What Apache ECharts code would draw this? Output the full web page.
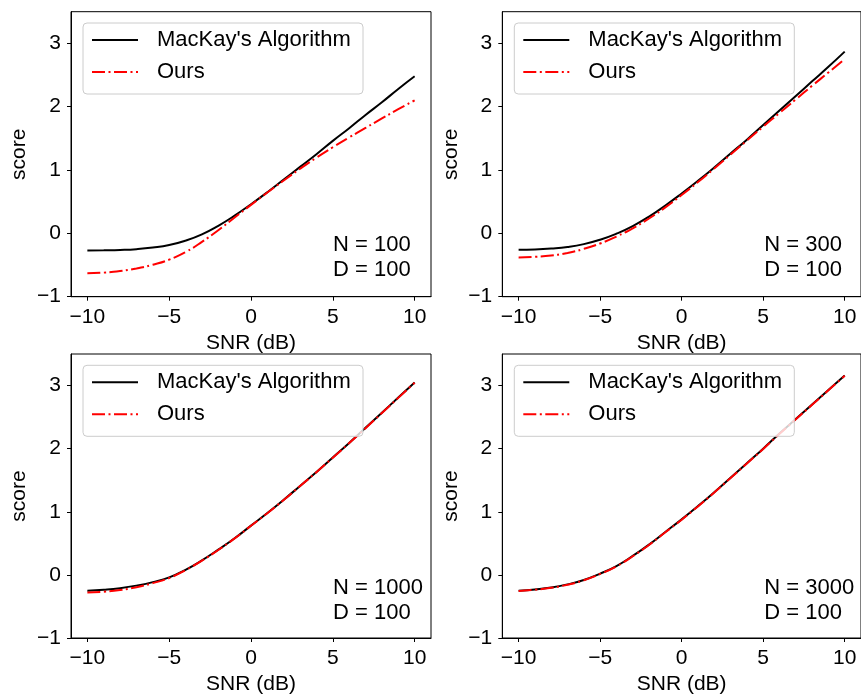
<!DOCTYPE html>
<html><head><meta charset="utf-8">
<script src="https://cdn.jsdelivr.net/npm/echarts@6/dist/echarts.min.js"></script>
<style>html,body{margin:0;padding:0;background:#fff}#c{width:861px;height:696px}</style>
</head><body><div id="c"></div>
<script>
const snr = [-10,-9,-8,-7,-6,-5,-4,-3,-2,-1,0,1,2,3,4,5,6,7,8,9,10];
const xTicks = [-10,-5,0,5,10];
const yTicks = [-1,0,1,2,3];
const seriesNames = ["MacKay's Algorithm", "Ours"];

const mackay100 = [-0.27,-0.267,-0.262,-0.25,-0.225,-0.185,-0.115,-0.015,0.12,0.28,0.46,0.65,0.85,1.05,1.25,1.46,1.66,1.87,2.07,2.28,2.48];
const ours100   = [-0.63,-0.62,-0.595,-0.555,-0.495,-0.415,-0.295,-0.135,0.05,0.25,0.45,0.645,0.835,1.02,1.195,1.36,1.515,1.665,1.815,1.96,2.10];
const mackay300 = [-0.26,-0.255,-0.24,-0.215,-0.17,-0.10,-0.005,0.115,0.265,0.44,0.63,0.83,1.04,1.26,1.48,1.71,1.94,2.17,2.40,2.63,2.87];
const ours300   = [-0.38,-0.37,-0.35,-0.31,-0.245,-0.16,-0.05,0.08,0.235,0.41,0.605,0.81,1.025,1.245,1.465,1.685,1.90,2.115,2.33,2.54,2.75];
const mackay1000 = [-0.25,-0.235,-0.21,-0.17,-0.115,-0.04,0.08,0.23,0.40,0.58,0.78,0.98,1.19,1.41,1.63,1.86,2.09,2.33,2.57,2.81,3.05];
const ours1000   = [-0.28,-0.267,-0.24,-0.195,-0.13,-0.05,0.075,0.225,0.395,0.578,0.778,0.978,1.188,1.408,1.628,1.858,2.088,2.325,2.565,2.805,3.045];
const mackay3000 = [-0.25,-0.23,-0.20,-0.15,-0.08,0.02,0.14,0.30,0.48,0.68,0.88,1.09,1.31,1.54,1.77,2.00,2.24,2.47,2.70,2.93,3.16];
const ours3000   = [-0.255,-0.235,-0.205,-0.155,-0.085,0.015,0.135,0.295,0.475,0.675,0.875,1.085,1.305,1.535,1.765,1.995,2.235,2.465,2.695,2.925,3.155];
const annotations = ['N = 100\nD = 100','N = 300\nD = 100','N = 1000\nD = 100','N = 3000\nD = 100'];

const panels = [
  {mackay: mackay100, ours: ours100, note: annotations[0], left: 71, top: 11.7, height: 285},
  {mackay: mackay300, ours: ours300, note: annotations[1], left: 502.3, top: 11.7, height: 285},
  {mackay: mackay1000, ours: ours1000, note: annotations[2], left: 71, top: 354, height: 286},
  {mackay: mackay3000, ours: ours3000, note: annotations[3], left: 502.3, top: 354, height: 286}
];

const FONT = "'Liberation Sans', Arial, sans-serif";
const FS = 21;
const FS2 = 22;
const fmt = v => String(v).replace('-', '\u2212');

const option = {
  animation: false,
  backgroundColor: '#fff',
  textStyle: {fontFamily: FONT},
  grid: panels.map(p => ({left: p.left, top: p.top, width: 360, height: p.height, show: true, borderColor: '#000', borderWidth: 1, backgroundColor: 'transparent', containLabel: false})),
  xAxis: panels.map((p, i) => ({
    type: 'value', gridIndex: i, min: -11, max: 11,
    name: 'SNR (dB)', nameLocation: 'middle', nameGap: 36,
    nameTextStyle: {fontSize: FS, color: '#000', fontFamily: FONT},
    axisLine: {show: true, onZero: false, lineStyle: {color: '#000', width: 1}},
    axisTick: {show: true, length: 4, customValues: xTicks, lineStyle: {color: '#000'}},
    axisLabel: {customValues: xTicks, formatter: fmt, fontSize: FS, color: '#000', margin: 10, fontFamily: FONT},
    splitLine: {show: false}
  })),
  yAxis: panels.map((p, i) => ({
    type: 'value', gridIndex: i, min: -1, max: 3.5,
    name: 'score', nameLocation: 'middle', nameGap: 41, nameRotate: 90,
    nameTextStyle: {fontSize: FS, color: '#000', fontFamily: FONT},
    axisLine: {show: true, onZero: false, lineStyle: {color: '#000', width: 1}},
    axisTick: {show: true, length: 4, customValues: yTicks, lineStyle: {color: '#000'}},
    axisLabel: {customValues: yTicks, formatter: fmt, fontSize: FS, color: '#000', margin: 10, fontFamily: FONT},
    splitLine: {show: false}
  })),
  legend: panels.map((p, i) => ({
    orient: 'vertical', left: p.left + 12, top: p.top + 11.3,
    data: seriesNames,
    itemWidth: 46, itemHeight: 14, itemGap: 8,
    padding: [5, 10, 10, 8],
    borderColor: '#cccccc', borderWidth: 1, borderRadius: 4,
    backgroundColor: 'rgba(255,255,255,0.8)',
    itemStyle: {opacity: 0},
    textStyle: {fontSize: FS2, color: '#000', fontFamily: FONT, lineHeight: 24, padding: [0, 0, 0, 14], width: 196}
  })),
  title: panels.map(p => ({
    text: p.note, left: p.left + 262, top: p.top + 221,
    padding: 0,
    textStyle: {fontSize: FS2, fontWeight: 'normal', color: '#000', lineHeight: 25, fontFamily: FONT}
  })),
  series: []
};

panels.forEach((p, i) => {
  option.series.push({
    name: seriesNames[0], type: 'line', xAxisIndex: i, yAxisIndex: i,
    data: snr.map((x, j) => [x, p.mackay[j]]),
    symbol: 'none', smooth: 0.5,
    lineStyle: {color: '#000', width: 2},
    itemStyle: {color: '#000'}
  });
  option.series.push({
    name: seriesNames[1], type: 'line', xAxisIndex: i, yAxisIndex: i,
    data: snr.map((x, j) => [x, p.ours[j]]),
    symbol: 'none', smooth: 0.5,
    lineStyle: {color: '#ff0000', width: 2, type: [13, 3.5, 2, 3.5]},
    itemStyle: {color: '#ff0000'}
  });
});

const chart = echarts.init(document.getElementById('c'), null, {renderer: 'canvas'});
chart.setOption(option);
</script>
</body></html>
